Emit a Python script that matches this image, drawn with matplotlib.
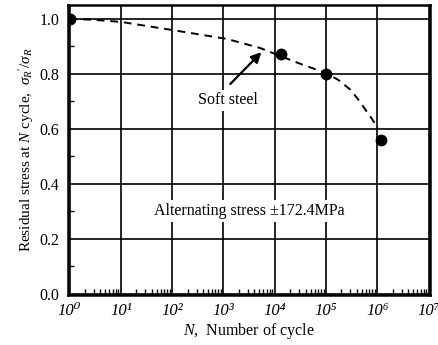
import matplotlib
matplotlib.use("Agg")
import matplotlib.pyplot as plt
import numpy as np
from matplotlib.ticker import FixedLocator, NullFormatter

plt.rcParams['font.family'] = ['Liberation Serif', 'DejaVu Serif']
plt.rcParams['mathtext.fontset'] = 'custom'
plt.rcParams['mathtext.rm'] = 'Liberation Serif'
plt.rcParams['mathtext.it'] = 'Liberation Serif:italic'
plt.rcParams['mathtext.bf'] = 'Liberation Serif:bold'

# data points
pts_n = [1.0, 1.35e4, 1.0e5, 1.17e6]
pts_r = [1.0, 0.87, 0.80, 0.56]

# dashed trend curve
curve_n = [1.0, 3.2, 10.0, 1.12e2, 1.17e3, 5.2e3, 3.2e4, 1.07e5, 1.8e5,
           3.0e5, 4.5e5, 5.9e5, 7.9e5, 1.02e6]
curve_r = [1.0, 0.995, 0.988, 0.957, 0.926, 0.893, 0.835, 0.80, 0.775,
           0.741, 0.70, 0.668, 0.635, 0.60]

xtick_exp = [0, 1, 2, 3, 4, 5, 6, 7]
xtick_labels = ['10\u2070', '10\u00b9', '10\u00b2', '10\u00b3',
                '10\u2074', '10\u2075', '10\u2076', '10\u2077']
ytick_vals = [0.0, 0.2, 0.4, 0.6, 0.8, 1.0]

fig = plt.figure(figsize=(4.38, 3.45), dpi=100)
ax = fig.add_axes([0.155, 0.145, 0.827, 0.841])

ax.set_xscale('log')
ax.set_xlim(0.93, 1.07e7)
ax.set_ylim(-0.005, 1.05)

ax.set_xticks([10.0 ** e for e in xtick_exp])
ax.set_xticklabels(xtick_labels, fontsize=12, fontstyle='italic')
ax.xaxis.set_minor_locator(FixedLocator([k * 10.0 ** e for e in range(7) for k in range(2, 10)]))
ax.xaxis.set_minor_formatter(NullFormatter())
ax.set_yticks(ytick_vals)
ax.set_yticklabels(['%.1f' % v for v in ytick_vals], fontsize=11.5)
ax.yaxis.set_minor_locator(FixedLocator([0.1, 0.3, 0.5, 0.7, 0.9]))

ax.tick_params(axis='both', which='major', direction='in', length=0, pad=6)
ax.tick_params(axis='x', which='minor', direction='in', length=4, width=1, color='black')
ax.tick_params(axis='y', which='minor', direction='in', length=4, width=1, color='black')
ax.grid(True, which='major', color='black', linewidth=1.2)

for s in ax.spines.values():
    s.set_linewidth(1.8)

ax.plot(curve_n, curve_r, linestyle=(0, (4, 3)), color='black', linewidth=1.4, zorder=3)
ax.plot(pts_n, pts_r, 'o', color='black', markersize=7.5, zorder=4)

ax.annotate('', xy=(6.0e3, 0.885), xytext=(1.25e3, 0.755),
            arrowprops=dict(arrowstyle='-|>', color='black', lw=1.6, mutation_scale=15))
ax.text(1.2e3, 0.703, 'Soft steel', fontsize=11.5, ha='center', va='center', zorder=5,
        bbox=dict(facecolor='white', edgecolor='none', pad=2))
ax.text(3.2e3, 0.30, 'Alternating stress \u00b1172.4MPa', fontsize=11.5, ha='center', va='center',
        zorder=5, bbox=dict(facecolor='white', edgecolor='none', pad=2))

ax.set_xlabel(r'$N$,  Number of cycle', fontsize=11.5, labelpad=1)
ax.set_ylabel(r"Residual stress at $N$ cycle,  $\sigma_R{}'/\sigma_R$", fontsize=11, labelpad=3)

fig.savefig('out.png', dpi=100)
